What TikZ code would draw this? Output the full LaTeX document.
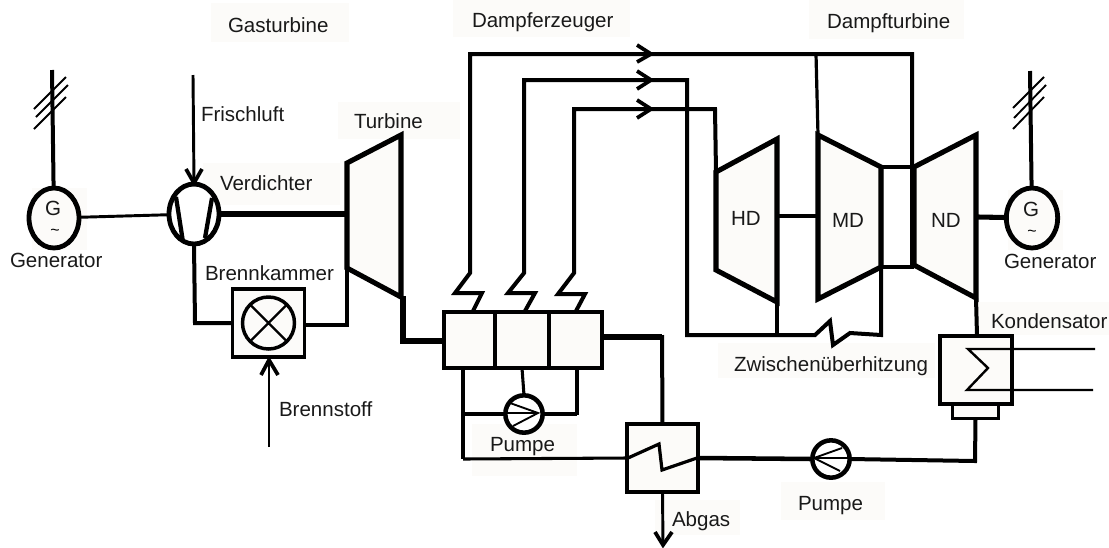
\documentclass[tikz,border=0pt]{standalone}
\usepackage{fontspec}
\setmainfont{Liberation Sans}
\definecolor{pane}{HTML}{FCFBF9}
\tikzset{
  lab/.style={anchor=base west,inner sep=0pt,outer sep=0pt,font=\fontsize{15.4}{17}\selectfont,text=black!90},
  small/.style={anchor=center,inner sep=0pt,font=\fontsize{12}{13}\selectfont},
  bg/.style={fill=pane,draw=none},
  ball/.style={ellipse,draw,line width=3.6pt,inner sep=0pt,outer sep=0pt,fill=pane},
  box/.style={rectangle,draw,inner sep=0pt,outer sep=0pt,fill=pane,line width=2.8pt},
  thin/.style={line width=2.2pt},
  mid/.style={line width=3pt},
  heavy/.style={line width=5pt},
  casing/.style={fill=pane,draw,line width=3.8pt,line join=miter},
  chev/.style={line width=2.8pt},
  hash/.style={line width=1.4pt},
}
\usetikzlibrary{shapes.geometric}
\begin{document}
\begin{tikzpicture}[x=0.75pt,y=-0.75pt]
\useasboundingbox (0,0) rectangle (1109,547);
% faint panels behind labels
\fill[bg] (211,3) rectangle (349,42);
\fill[bg] (453,0) rectangle (630,37);
\fill[bg] (809,0) rectangle (964,39);
\fill[bg] (338,102) rectangle (460,139);
\fill[bg] (203,163) rectangle (340,205);
\fill[bg] (32,188) rectangle (87,250);
\fill[bg] (1008,190) rectangle (1063,250);
\fill[bg] (718,343) rectangle (935,378);
\fill[bg] (472,424) rectangle (577,476);
\fill[bg] (781,482) rectangle (885,520);
\fill[bg] (655,500) rectangle (740,535);
\fill[bg] (975,302) rectangle (1109,335);
% named points
\coordinate (airin) at (193,75);
\coordinate (fuelin) at (269,447);
\coordinate (gaslT) at (347,163); \coordinate (gasrT) at (401,135);
\coordinate (gasrB) at (401,297); \coordinate (gaslB) at (347,268);
\coordinate (hdlT) at (716,172); \coordinate (hdrT) at (777,139);
\coordinate (hdrB) at (777,302); \coordinate (hdlB) at (716,270);
\coordinate (mdlT) at (818,135); \coordinate (mdrT) at (881,167);
\coordinate (mdrB) at (881,267); \coordinate (mdlB) at (818,299);
\coordinate (ndlT) at (914,167); \coordinate (ndrT) at (976,135);
\coordinate (ndrB) at (976,298); \coordinate (ndlB) at (914,265);
% casings
\draw[casing] (gaslT)--(gasrT)--(gasrB)--(gaslB)--cycle;
\draw[casing] (hdlT)--(hdrT)--(hdrB)--(hdlB)--cycle;
\draw[casing] (mdlT)--(mdrT)--(mdrB)--(mdlB)--cycle;
\draw[casing] (ndlT)--(ndrT)--(ndrB)--(ndlB)--cycle;
% nodes
\node[ball,minimum width=37.5pt,minimum height=45pt] (genL) at (54,218) {};
\node[ball,minimum width=37.5pt,minimum height=45pt,fill=white] (comp) at (194,214) {};
\node[ball,minimum width=38.5pt,minimum height=45pt] (genR) at (1032,218) {};
\node[box,minimum width=54pt,minimum height=51pt] (burner) at (268.5,323) {};
\node[circle,draw,line width=2.6pt,minimum size=39pt,inner sep=0pt,outer sep=0pt] (flame) at (268.5,323) {};
\node[box,minimum width=118pt,minimum height=42pt,line width=3pt] (boiler) at (523,340) {};
\node[box,minimum width=53pt,minimum height=51pt] (hx) at (662.5,458) {};
\node[box,minimum width=54pt,minimum height=51pt,line width=3pt] (cond) at (976,370) {};
\node[box,minimum width=35pt,minimum height=11pt,line width=2.4pt] (well) at (975.5,411.5) {};
\node[circle,draw,line width=3.4pt,minimum size=28pt,inner sep=0pt,outer sep=0pt,fill=white] (pumpA) at (524,414) {};
\node[circle,draw,line width=3.4pt,minimum size=28pt,inner sep=0pt,outer sep=0pt,fill=white] (pumpB) at (831,459) {};
% boiler dividers
\coordinate (d1t) at (495,312); \coordinate (d1b) at (495,368);
\coordinate (d2t) at (549,312); \coordinate (d2b) at (549,368);
\draw[line width=3pt] (d1t)--(d1b) (d2t)--(d2b);
% compressor blades
\draw[line width=3.2pt] (176,197)--(183,242) (212,198)--(205,238);
% burner cross
\draw[line width=1.8pt] (flame.north west)--(flame.south east) (flame.north east)--(flame.south west);
% gas side
\draw[thin] (genL)--(comp);
\draw[line width=5pt] (comp.east)--(gaslT|-comp.east);
\coordinate (ca) at (195,323);
\draw[mid,line join=miter] (comp.south)--(ca)--(burner.west);
\coordinate (cb) at (347,325);
\draw[mid,line join=miter] (gaslB)--(cb)--(burner.east|-cb);
\coordinate (tb) at (403,341);
\draw[heavy,line join=miter] (403,296)--(tb)--(boiler.west|-tb);
% air and fuel
\coordinate (airtip) at (194,183);
\draw[thin] (airin)--(airtip);
\draw[chev] (186,169)--(airtip)--(202,169);
\coordinate (fueltip) at (269,360);
\draw[thin] (fuelin)--(fueltip);
\draw[chev] (261,375)--(fueltip)--(278,375);
% generator masts
\coordinate (mastL) at (52,70); \coordinate (mastR) at (1030,71);
\draw[mid] (mastL)--(genL);
\draw[mid] (mastR)--(genR);
\draw[hash] (34,109)--(66,77) (36,117)--(68,85) (34,129)--(66,97);
\draw[hash] (1013,108)--(1044,77) (1014,118)--(1046,85) (1013,129)--(1044,97);
% live steam lines
\coordinate (a1) at (473,311); \coordinate (a2) at (525,311); \coordinate (a3) at (576,311);
\coordinate (tA) at (912,54); \coordinate (tB) at (687,80); \coordinate (tC) at (715,109);
\draw[mid,line join=miter] (a1)--(482,293)--(455,293)--(470,273)--(470,54)--(tA)--(912,167);
\draw[mid,line join=miter] (a2)--(535,293)--(508,293)--(524,273)--(524,80)--(tB)--(687,335)--(815,335)--(830,321)--(833,345)--(850,333)--(881,335)--(mdrT);
\draw[mid,line join=miter] (a3)--(585,294)--(558,294)--(574,273)--(574,109)--(tC)--(hdlT);
\coordinate (arrA) at (651,54); \coordinate (arrB) at (651,80); \coordinate (arrC) at (651,109);
\draw[chev] (637,45)--(arrA)--(637,62);
\draw[chev] (637,71)--(arrB)--(637,89);
\draw[chev] (637,100)--(arrC)--(637,118);
% turbine links
\draw[line width=2.4pt] (816,54)--(mdlT);
\draw[mid] (hdrB)--(777,335);
\draw[mid] (777,216)--(818,216);
\draw[mid] (mdrT)--(ndlT) (mdrB)--(ndlB|-mdrB);
\draw[mid] (912,167)--(912,268);
\draw[line width=3.8pt] (978,217)--(genR);
\draw[mid] (ndrB)--(cond.north-|977,0);
% condenser
\coordinate (cw1) at (1095,349); \coordinate (cw2) at (1093,390);
\draw[line width=1.8pt] (cw1)--(968,349)--(988,368)--(967,390)--(cw2);
\draw[mid,line join=miter] (well.south)--(975,461)--(pumpB.east);
\draw[line width=3.4pt] (hx.east)--(pumpB.west);
% pump B interior
\draw[line width=1.4pt] (842,448)--(814,458)--(840,471) (814,458)--(849,458);
% boiler lower loop
\coordinate (l1) at (463,459);
\draw[mid,line join=miter] (463,368)--(l1);
\draw[line width=2.3pt] (l1)--(hx.west);
\draw[line width=2.3pt] (465,414)--(pumpA.west);
\draw[line width=2.3pt] (pumpA.east)--(577,414);
\draw[mid] (577,415)--(577,368);
\draw[line width=2.3pt] (522,368)--(pumpA.north);
\draw[line width=1.4pt] (510,403)--(538,413)--(513,426) (507,413)--(538,413);
% exhaust
\coordinate (e1) at (662,337);
\draw[heavy] (boiler.east|-e1)--(e1);
\draw[mid] (662,335)--(hx.north);
\coordinate (abtip) at (663,545);
\draw[thin] (hx.south)--(abtip);
\draw[chev] (655,532)--(abtip)--(672,532);
\draw[line width=2.4pt,line join=miter] (628,458)--(659,444)--(662,470)--(697,458);
% labels
\node[lab] (t1) at (228,32) {Gasturbine};
\node[lab] (t2) at (472,27) {Dampferzeuger};
\node[lab] (t3) at (827,28) {Dampfturbine};
\node[lab] (t4) at (201,121) {Frischluft};
\node[lab] (t5) at (354,128) {Turbine};
\node[lab] (t6) at (220,190) {Verdichter};
\node[lab] (t7) at (10,267) {Generator};
\node[lab] (t8) at (205,280) {Brennkammer};
\node[lab] (t9) at (279,416) {Brennstoff};
\node[lab] (t10) at (734,371) {Zwischenüberhitzung};
\node[lab] (t11) at (490,451) {Pumpe};
\node[lab] (t12) at (798,510) {Pumpe};
\node[lab] (t13) at (672,526) {Abgas};
\node[lab] (t14) at (991,328) {Kondensator};
\node[lab] (t15) at (1004,268) {Generator};
\node[lab] (t16) at (731,225) {HD};
\node[lab] (t17) at (832,227) {MD};
\node[lab] (t18) at (931,227) {ND};
\node[lab] (t19) at (45,215) {G};
\node[lab] (t20) at (1023,216) {G};
\node[small] (t21) at (55,232) {\textasciitilde};
\node[small] (t22) at (1032,233) {\textasciitilde};
\end{tikzpicture}
\end{document}
